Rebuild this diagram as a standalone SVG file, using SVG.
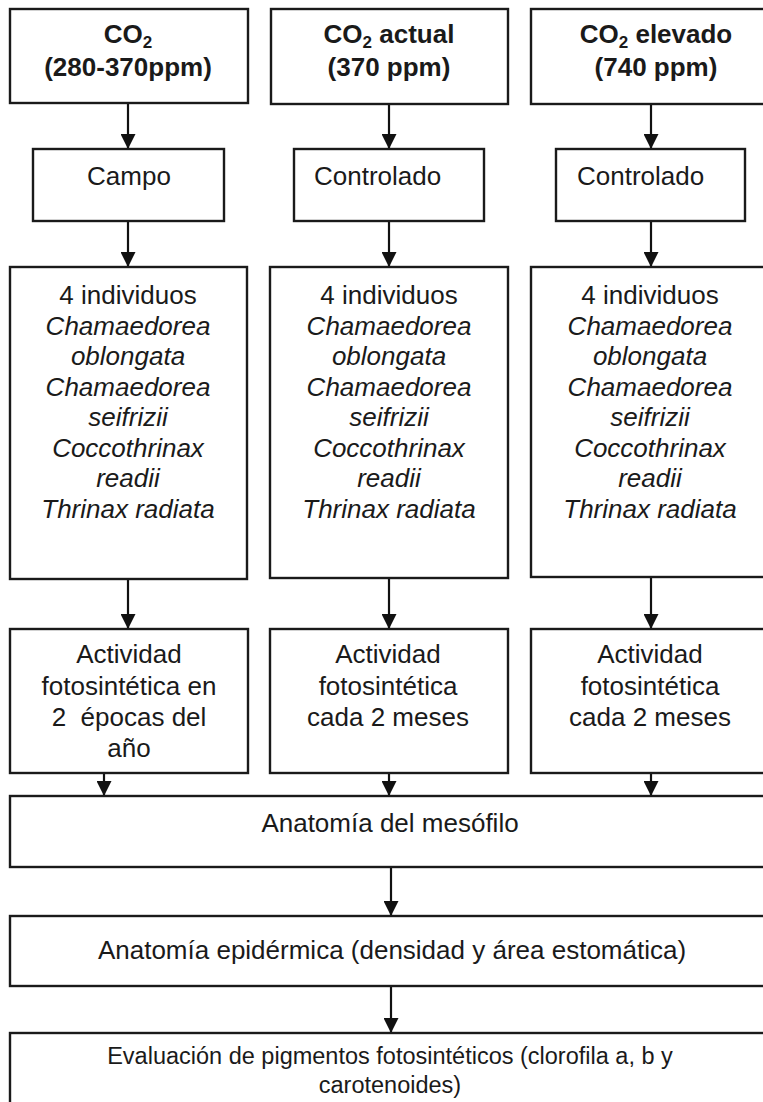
<svg xmlns="http://www.w3.org/2000/svg" width="763" height="1102" viewBox="0 0 763 1102">
<defs>
<marker id="ah" markerUnits="userSpaceOnUse" markerWidth="15" markerHeight="15" refX="15" refY="7.5" orient="auto">
<path d="M0,0 L15,7.5 L0,15 Z" fill="#111"/>
</marker>
<style>
.box{fill:#fff;stroke:#1a1a1a;stroke-width:2.4}
.t{font-family:"Liberation Sans",Arial,sans-serif;font-size:26px;fill:#1a1a1a;text-anchor:middle}
.l{text-anchor:start}
.b{font-weight:bold}
.i{font-style:italic}
.s{font-size:23.5px}
.c{stroke:#111;stroke-width:2.2;fill:none;marker-end:url(#ah)}
</style>
</defs>
<rect width="763" height="1102" fill="#fff"/>
<g id="connectors">
<line class="c" x1="128" y1="103" x2="128" y2="149"/>
<line class="c" x1="389" y1="104" x2="389" y2="149"/>
<line class="c" x1="651" y1="104" x2="651" y2="149"/>
<line class="c" x1="128" y1="221" x2="128" y2="267"/>
<line class="c" x1="389" y1="221" x2="389" y2="267"/>
<line class="c" x1="651" y1="221" x2="651" y2="267"/>
<line class="c" x1="128" y1="579" x2="128" y2="629"/>
<line class="c" x1="389" y1="578" x2="389" y2="629"/>
<line class="c" x1="651" y1="577" x2="651" y2="629"/>
<line class="c" x1="104" y1="773" x2="104" y2="796"/>
<line class="c" x1="389" y1="773" x2="389" y2="796"/>
<line class="c" x1="651" y1="773" x2="651" y2="796"/>
<line class="c" x1="391" y1="867" x2="391" y2="916"/>
<line class="c" x1="391" y1="986" x2="391" y2="1033"/>
</g>
<g id="co2-1">
<rect class="box" x="10" y="9" width="238" height="94"/>
<text class="t b" x="128" y="43">CO<tspan font-size="17" dy="5">2</tspan></text>
<text class="t b" x="128" y="76">(280-370ppm)</text>
</g>
<g id="co2-2">
<rect class="box" x="271" y="9" width="237" height="95"/>
<text class="t b" x="389" y="43">CO<tspan font-size="17" dy="5">2</tspan><tspan dy="-5"> actual</tspan></text>
<text class="t b" x="389" y="76">(370 ppm)</text>
</g>
<g id="co2-3">
<rect class="box" x="531" y="9" width="240" height="95"/>
<text class="t b" x="656" y="43">CO<tspan font-size="17" dy="5">2</tspan><tspan dy="-5"> elevado</tspan></text>
<text class="t b" x="656" y="76">(740 ppm)</text>
</g>
<g id="campo">
<rect class="box" x="33" y="149" width="191" height="72"/>
<text class="t" x="129" y="185">Campo</text>
</g>
<g id="controlado-2">
<rect class="box" x="294" y="149" width="190" height="72"/>
<text class="t l" x="314" y="185">Controlado</text>
</g>
<g id="controlado-3">
<rect class="box" x="556" y="149" width="189" height="72"/>
<text class="t l" x="577" y="185">Controlado</text>
</g>
<g id="individuos-1">
<rect class="box" x="10" y="267" width="237" height="312"/>
<text class="t" x="128" y="304">4 individuos</text>
<text class="t i" x="128" y="334.5">Chamaedorea</text>
<text class="t i" x="128" y="365">oblongata</text>
<text class="t i" x="128" y="395.5">Chamaedorea</text>
<text class="t i" x="128" y="426">seifrizii</text>
<text class="t i" x="128" y="456.5">Coccothrinax</text>
<text class="t i" x="128" y="487">readii</text>
<text class="t i" x="128" y="517.5">Thrinax radiata</text>
</g>
<g id="individuos-2">
<rect class="box" x="270" y="267" width="238" height="311"/>
<text class="t" x="389" y="304">4 individuos</text>
<text class="t i" x="389" y="334.5">Chamaedorea</text>
<text class="t i" x="389" y="365">oblongata</text>
<text class="t i" x="389" y="395.5">Chamaedorea</text>
<text class="t i" x="389" y="426">seifrizii</text>
<text class="t i" x="389" y="456.5">Coccothrinax</text>
<text class="t i" x="389" y="487">readii</text>
<text class="t i" x="389" y="517.5">Thrinax radiata</text>
</g>
<g id="individuos-3">
<rect class="box" x="531" y="267" width="240" height="310"/>
<text class="t" x="650" y="304">4 individuos</text>
<text class="t i" x="650" y="334.5">Chamaedorea</text>
<text class="t i" x="650" y="365">oblongata</text>
<text class="t i" x="650" y="395.5">Chamaedorea</text>
<text class="t i" x="650" y="426">seifrizii</text>
<text class="t i" x="650" y="456.5">Coccothrinax</text>
<text class="t i" x="650" y="487">readii</text>
<text class="t i" x="650" y="517.5">Thrinax radiata</text>
</g>
<g id="actividad-1">
<rect class="box" x="10" y="629" width="238" height="144"/>
<text class="t" x="129" y="663">Actividad</text>
<text class="t" x="129" y="695">fotosintética en</text>
<text class="t" x="129" y="726" style="white-space:pre">2  épocas del</text>
<text class="t" x="129" y="757">año</text>
</g>
<g id="actividad-2">
<rect class="box" x="270" y="629" width="238" height="144"/>
<text class="t" x="388" y="663">Actividad</text>
<text class="t" x="388" y="695">fotosintética</text>
<text class="t" x="388" y="726">cada 2 meses</text>
</g>
<g id="actividad-3">
<rect class="box" x="531" y="629" width="240" height="144"/>
<text class="t" x="650" y="663">Actividad</text>
<text class="t" x="650" y="695">fotosintética</text>
<text class="t" x="650" y="726">cada 2 meses</text>
</g>
<g id="mesofilo">
<rect class="box" x="10" y="796" width="761" height="71"/>
<text class="t" x="390" y="832">Anatomía del mesófilo</text>
</g>
<g id="epidermica">
<rect class="box" x="10" y="916" width="761" height="70"/>
<text class="t" x="392" y="959">Anatomía epidérmica (densidad y área estomática)</text>
</g>
<g id="pigmentos">
<rect class="box" x="10" y="1033" width="761" height="80"/>
<text class="t s" x="390" y="1064">Evaluación de pigmentos fotosintéticos (clorofila a, b y</text>
<text class="t s" x="390" y="1093">carotenoides)</text>
</g>
</svg>
